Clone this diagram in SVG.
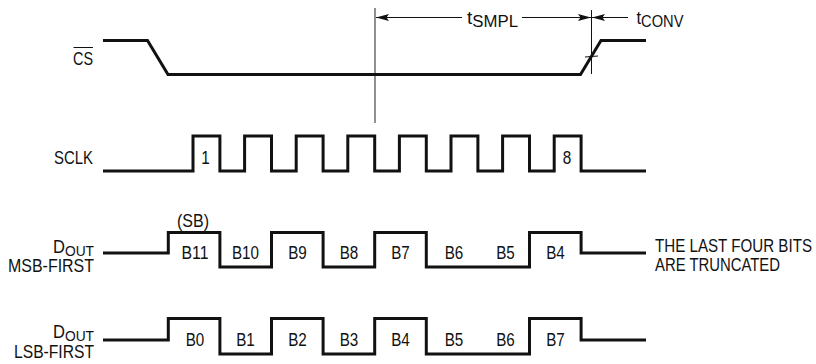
<svg xmlns="http://www.w3.org/2000/svg" width="816" height="364" viewBox="0 0 816 364">
<style>
text{font-family:"Liberation Sans",Arial,sans-serif;font-size:18px;fill:#111}
.sig{fill:none;stroke:#111;stroke-width:3;stroke-linejoin:miter;stroke-linecap:butt}
.thin{stroke:#111;stroke-width:1;fill:none}
.lbl{text-anchor:end}
.mid{text-anchor:middle}
.sub{font-size:16px}
.subs{font-size:15px}
</style>
<defs>
<marker id="ah" markerUnits="userSpaceOnUse" markerWidth="14" markerHeight="8" refX="13" refY="3.5" orient="auto">
<path d="M0,0 L13,3.5 L0,7 L2.5,3.5 z" fill="#111"/>
</marker>
</defs>
<g id="connectors">
<line x1="375" y1="8" x2="375" y2="123" stroke="#555" stroke-width="1.3"/>
<line class="thin" x1="591.5" y1="10" x2="591.5" y2="74"/>
<line class="thin" x1="462" y1="17.5" x2="376" y2="17.5" marker-end="url(#ah)"/>
<line class="thin" x1="522" y1="17.5" x2="591" y2="17.5" marker-end="url(#ah)"/>
<line class="thin" x1="628" y1="17.5" x2="592" y2="17.5" marker-end="url(#ah)"/>
<line class="thin" x1="585" y1="57" x2="598" y2="56"/>
</g>
<g id="cs">
<path class="sig" d="M103,40.5 H147.5 L168,74.5 H580.5 L601,40.5 H646"/>
<text class="lbl" x="93" y="65" textLength="20" lengthAdjust="spacingAndGlyphs">CS</text>
<line class="thin" x1="73.5" y1="47.5" x2="93" y2="47.5" stroke-width="1.3"/>
</g>
<g id="sclk">
<path class="sig" d="M103,171 H193 V136 H219.9 V171 H244.6 V136 H271.5 V171 H296.2 V136 H323.1 V171 H347.8 V136 H374.7 V171 H399.4 V136 H426.3 V171 H451 V136 H477.9 V171 H502.6 V136 H529.5 V171 H554.2 V136 H581.1 V171 H646"/>
<text class="lbl" x="93" y="164" textLength="39" lengthAdjust="spacingAndGlyphs">SCLK</text>
<text class="mid" x="205.5" y="164" textLength="8.5" lengthAdjust="spacingAndGlyphs">1</text>
<text class="mid" x="567" y="164" textLength="8.5" lengthAdjust="spacingAndGlyphs">8</text>
</g>
<g id="tsmpl">
<text x="467" y="24" textLength="51" lengthAdjust="spacingAndGlyphs">t<tspan class="sub" dy="3">SMPL</tspan></text>
</g>
<g id="tconv">
<text x="636.5" y="24" textLength="47" lengthAdjust="spacingAndGlyphs">t<tspan class="sub" dy="3">CONV</tspan></text>
</g>
<g id="dout-msb">
<path class="sig" d="M103,253 H168.3 V232.5 H219.9 V267 H271.5 V232.5 H323.1 V267 H374.7 V232.5 H426.3 V267 H529.5 V232.5 H581.1 V253 H646"/>
<text class="lbl" x="94" y="252.5" textLength="41" lengthAdjust="spacingAndGlyphs">D<tspan class="subs" dy="3">OUT</tspan></text>
<text class="lbl" x="94" y="271.5" textLength="86" lengthAdjust="spacingAndGlyphs">MSB-FIRST</text>
<text class="mid" x="193" y="227" textLength="32" lengthAdjust="spacingAndGlyphs">(SB)</text>
<text class="mid" x="195" y="258.5" textLength="27" lengthAdjust="spacingAndGlyphs">B11</text>
<text class="mid" x="245.5" y="258.5" textLength="27" lengthAdjust="spacingAndGlyphs">B10</text>
<text class="mid" x="297.5" y="258.5" textLength="18.6" lengthAdjust="spacingAndGlyphs">B9</text>
<text class="mid" x="349" y="258.5" textLength="18.6" lengthAdjust="spacingAndGlyphs">B8</text>
<text class="mid" x="400.5" y="258.5" textLength="18.6" lengthAdjust="spacingAndGlyphs">B7</text>
<text class="mid" x="454" y="258.5" textLength="18.6" lengthAdjust="spacingAndGlyphs">B6</text>
<text class="mid" x="505.5" y="258.5" textLength="18.6" lengthAdjust="spacingAndGlyphs">B5</text>
<text class="mid" x="555.5" y="258.5" textLength="18.6" lengthAdjust="spacingAndGlyphs">B4</text>
<text x="655" y="252" textLength="157" lengthAdjust="spacingAndGlyphs">THE LAST FOUR BITS</text>
<text x="655" y="271" textLength="125" lengthAdjust="spacingAndGlyphs">ARE TRUNCATED</text>
</g>
<g id="dout-lsb">
<path class="sig" d="M103,340 H168.3 V318.5 H219.9 V354 H271.5 V318.5 H323.1 V354 H374.7 V318.5 H426.3 V354 H529.5 V318.5 H581.1 V340 H646"/>
<text class="lbl" x="94" y="338" textLength="41" lengthAdjust="spacingAndGlyphs">D<tspan class="subs" dy="3">OUT</tspan></text>
<text class="lbl" x="94" y="358" textLength="80" lengthAdjust="spacingAndGlyphs">LSB-FIRST</text>
<text class="mid" x="195" y="345.5" textLength="18.6" lengthAdjust="spacingAndGlyphs">B0</text>
<text class="mid" x="245.5" y="345.5" textLength="18.6" lengthAdjust="spacingAndGlyphs">B1</text>
<text class="mid" x="297.5" y="345.5" textLength="18.6" lengthAdjust="spacingAndGlyphs">B2</text>
<text class="mid" x="349" y="345.5" textLength="18.6" lengthAdjust="spacingAndGlyphs">B3</text>
<text class="mid" x="400.5" y="345.5" textLength="18.6" lengthAdjust="spacingAndGlyphs">B4</text>
<text class="mid" x="454" y="345.5" textLength="18.6" lengthAdjust="spacingAndGlyphs">B5</text>
<text class="mid" x="505.5" y="345.5" textLength="18.6" lengthAdjust="spacingAndGlyphs">B6</text>
<text class="mid" x="555.5" y="345.5" textLength="18.6" lengthAdjust="spacingAndGlyphs">B7</text>
</g>
</svg>
